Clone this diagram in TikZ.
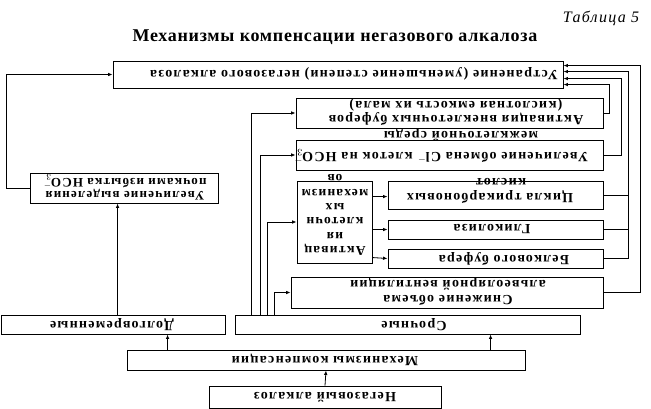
\documentclass[tikz,border=0pt]{standalone}
\usepackage{fontspec}
\setmainfont{Liberation Serif}
\newfontfamily\boxfont[LetterSpace=9]{Liberation Serif}
\newfontfamily\titfont[LetterSpace=4]{Liberation Serif}
\usetikzlibrary{arrows.meta,calc}
\begin{document}
\begin{tikzpicture}[x=1pt,y=-1pt,
  box/.style={draw, line width=0.9pt, inner sep=0pt},
  txt/.style={rotate=180, inner sep=0pt, align=center, font=\boxfont\bfseries\fontsize{14}{13.5}\selectfont},
  conn/.style={line width=0.8pt},
  arr/.style={line width=0.8pt, -{Latex[length=4.5pt,width=3.6pt]}}]
\useasboundingbox (0,0) rectangle (651,409);
% titles
\node[inner sep=0pt, font=\itshape\fontsize{16}{16}\selectfont\addfontfeature{LetterSpace=8}] (tab) at (601,18) {Таблица 5};
\node[inner sep=0pt, font=\titfont\bfseries\fontsize{18}{18}\selectfont] (title) at (335,37) {Механизмы компенсации негазового алкалоза};
% boxes
\node[box, minimum width=450pt, minimum height=27pt] (A) at (338,74.5) {};
\node[box, minimum width=307pt, minimum height=30pt] (B) at (449.5,113) {};
\node[box, minimum width=307pt, minimum height=30pt] (C) at (449.5,155) {};
\node[box, minimum width=75pt, minimum height=82pt] (D) at (334.5,222) {};
\node[box, minimum width=215pt, minimum height=28pt] (E) at (495.5,195) {};
\node[box, minimum width=215pt, minimum height=19pt] (F) at (495.5,229.5) {};
\node[box, minimum width=215pt, minimum height=19pt] (G) at (495.5,258.5) {};
\node[box, minimum width=312pt, minimum height=31pt] (H) at (447,292.5) {};
\node[box, minimum width=188pt, minimum height=30pt] (I) at (124,188) {};
\node[box, minimum width=224pt, minimum height=19pt] (J) at (113,324.5) {};
\node[box, minimum width=345pt, minimum height=19pt] (K) at (407.5,324.5) {};
\node[box, minimum width=398pt, minimum height=20pt] (L) at (326,360) {};
\node[box, minimum width=232pt, minimum height=22pt] (M) at (325,397) {};
% texts
\node[txt] (tA) at (354,74) {Устранение (уменьшение степени) негазового алкалоза};
\node[txt] (tB) at (456,112) {Активация внеклеточных буферов\\(кислотная емкость их мала)};
\node[txt] (tC1) at (441,157) {Увеличение обмена Cl$^-$ клеток на HCO$_3^-$};
\node[txt] (tC2) at (461,135) {межклеточной среды};
\node[txt, font=\boxfont\bfseries\fontsize{13.5}{14.4}\selectfont] (tD) at (335,215) {Активац\\ия\\клеточн\\ых\\механизм\\ов};
\node[txt] (tE1) at (490,197) {Цикла трикарбоновых};
\node[txt] (tE2) at (501,182) {кислот};
\node[txt] (tF) at (492,229.5) {Гликолиза};
\node[txt] (tG) at (504,258.5) {Белкового буфера};
\node[txt, font=\boxfont\bfseries\fontsize{14}{15}\selectfont] (tH) at (448,291.5) {Снижение объема\\альвеолярной вентиляции};
\node[txt, font=\boxfont\bfseries\fontsize{13}{13.5}\selectfont] (tI) at (125,187.5) {Увеличение выделения\\почками избытка HCO$_3^-$};
\node[txt] (tJ) at (112,325) {Долговременные};
\node[txt] (tK) at (414,325) {Срочные};
\node[txt] (tL) at (325,360) {Механизмы компенсации};
\node[txt] (tM) at (325,397) {Негазовый алкалоз};
% connectors bottom
\draw[arr] (M.north) -- (L.south);
\draw[arr] ($(L.north west)+(41,0)$) -- ($(J.south west)+(167,0)$);
\draw[arr] ($(L.north west)+(364,0)$) -- ($(K.south west)+(256,0)$);
\draw[arr] ($(J.north west)+(117,0)$) -- ($(I.south west)+(88,0)$);
\draw[arr] (I.west) -- ++(-23,0) |- (A.west);
% from K
\draw[arr] ($(K.north west)+(17,0)$) |- (B.west);
\draw[arr] ($(K.north west)+(26,0)$) |- (C.west);
\draw[arr] ($(K.north west)+(33,0)$) |- (D.west);
\draw[arr] ($(K.north west)+(40,0)$) |- (H.west);
% from D
\draw[arr] ($(D.north east)+(0,16)$) -- ($(E.north west)+(0,16)$);
\draw[arr] ($(D.north east)+(0,49)$) -- (F.west);
\draw[arr] ($(D.north east)+(0,77)$) -- (G.west);
% right side to A
\draw[arr] (B.east) -- ++(6,0) |- ($(A.north east)+(0,24)$);
\draw[arr] (C.east) -- ++(18,0) |- ($(A.north east)+(0,18)$);
\draw[conn] (E.east) -- ++(25,0);
\draw[conn] (F.east) -- ++(25,0);
\draw[arr] (G.east) -- ++(25,0) |- ($(A.north east)+(0,11)$);
\draw[arr] (H.east) -- ++(37,0) |- ($(A.north east)+(0,5)$);
\end{tikzpicture}
\end{document}
